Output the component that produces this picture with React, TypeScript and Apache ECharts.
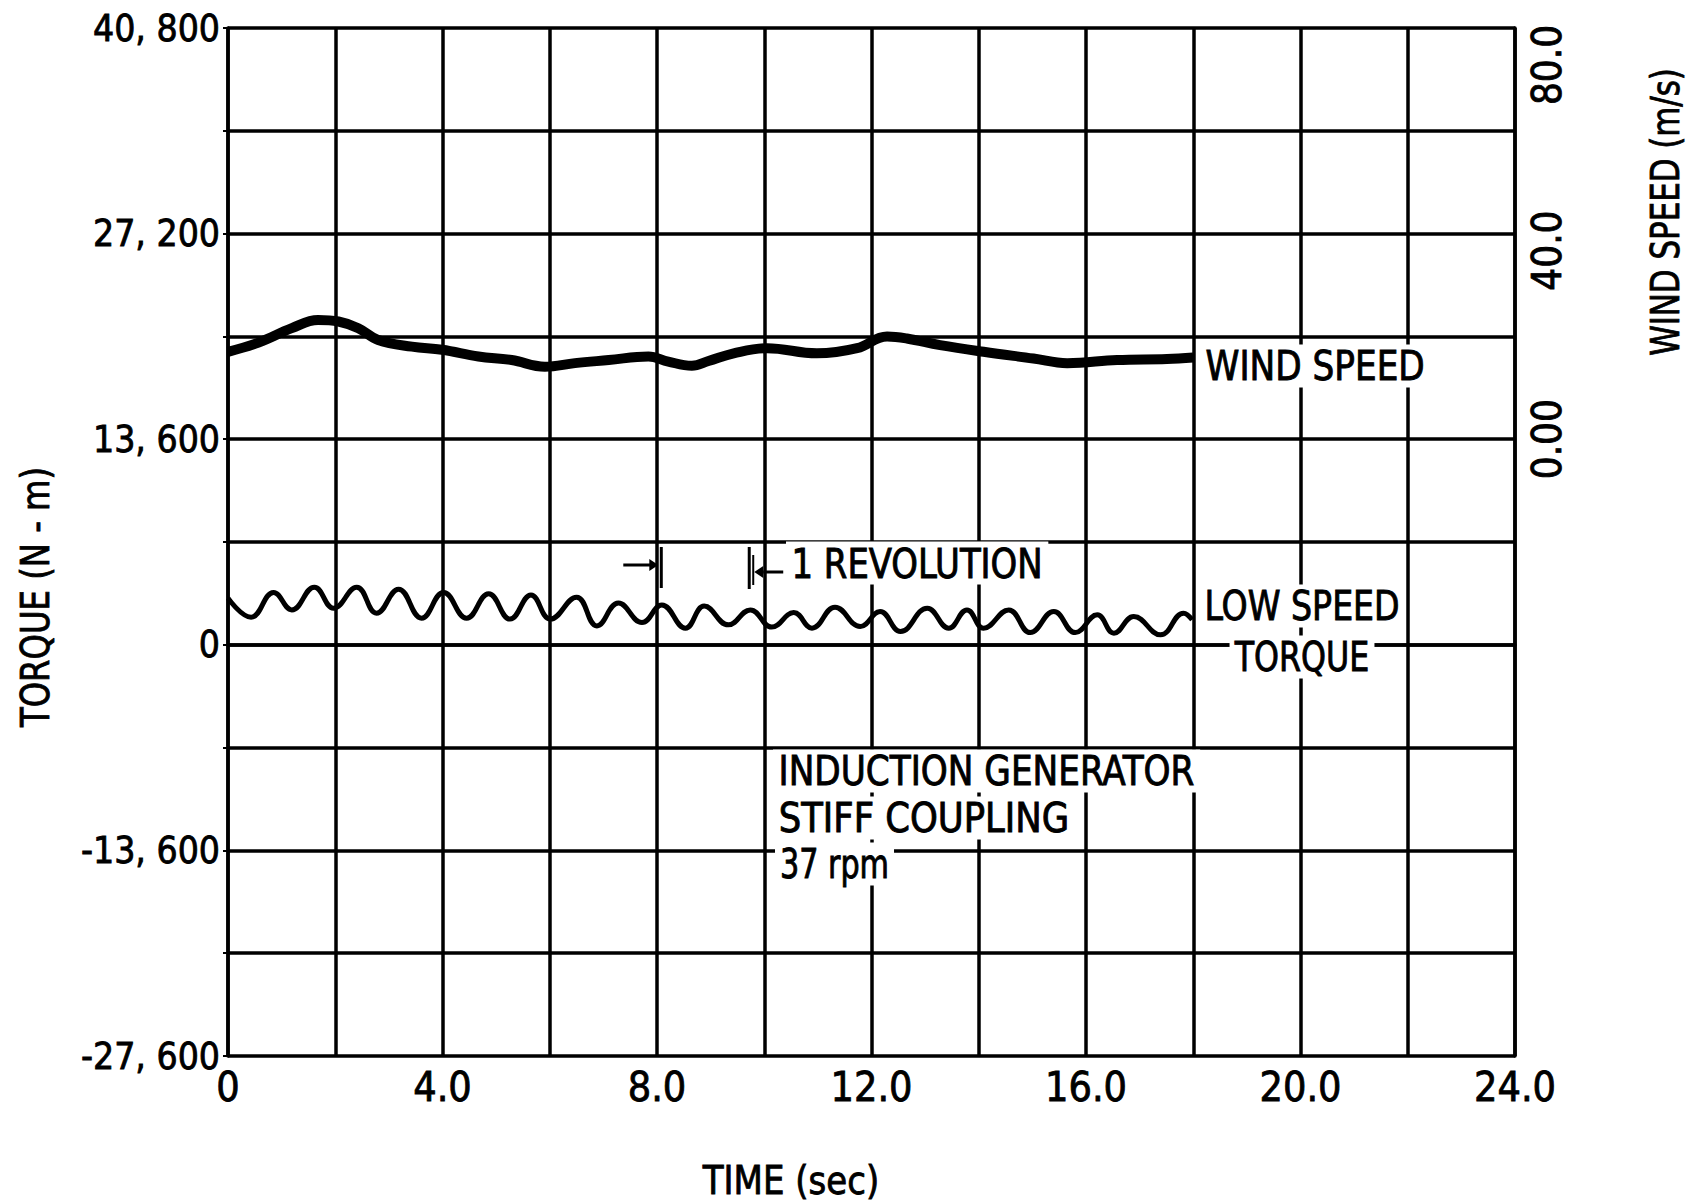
import React, { useEffect, useRef } from "react";
import * as echarts from "echarts";

// ---- axis ticks / labels ----
const xTickLabels: Record<number, string> = { 0: "0", 4: "4.0", 8: "8.0", 12: "12.0", 16: "16.0", 20: "20.0", 24: "24.0" };
const leftTickValues = [40800, 27200, 13600, 0, -13600, -27200];
const leftTickLabels = ["40, 800", "27, 200", "13, 600", "0", "-13, 600", "-27, 600"];
const rightTickValues = [80, 40, 0];
const rightTickLabels = ["80.0", "40.0", "0.00"];

// ---- low speed torque (N-m) ----
const torqueTime = [
  0.0, 0.43, 0.85, 1.19, 1.61, 1.97, 2.4, 2.77, 3.18, 3.61, 4.02, 4.45, 4.86, 5.26, 5.65, 6.01,
  6.5, 6.88, 7.28, 7.72, 8.09, 8.53, 8.88, 9.33, 9.74, 10.14, 10.55, 10.89, 11.32, 11.79, 12.16,
  12.54, 13.04, 13.44, 13.78, 14.09, 14.56, 14.96, 15.4, 15.8, 16.21, 16.52, 16.89, 17.39, 17.82, 17.98,
];
const torqueValue = [
  3090, 1830, 3460, 2310, 3810, 2420, 3810, 2090, 3680, 1760, 3460, 1760, 3370, 1700, 3300, 1700,
  3150, 1250, 2760, 1470, 2640, 1100, 2560, 1320, 2310, 1170, 2130, 1100, 2490, 1210, 2200,
  880, 2420, 1100, 2310, 1100, 2310, 810, 2200, 810, 1980, 770, 1870, 660, 2090, 1650,
];

// ---- wind speed (m/s) ----
const windTime = [
  0.0, 0.57, 1.19, 1.68, 2.06, 2.43, 2.8, 3.43, 3.99, 4.67, 5.29, 5.91, 6.47, 7.1, 7.84, 8.21,
  8.65, 8.96, 9.43, 10.05, 10.98, 11.73, 12.29, 12.66, 13.28, 14.09, 15.02, 15.65, 16.58, 17.51, 18.0,
];
const windValue = [
  17.0, 18.8, 21.6, 23.2, 22.9, 21.6, 19.3, 18.0, 17.4, 16.1, 15.4, 14.1, 14.8, 15.4, 16.1, 15.1,
  14.3, 15.2, 16.7, 17.7, 16.7, 17.7, 20.0, 19.6, 18.3, 17.0, 15.7, 14.8, 15.4, 15.6, 15.9,
];

// one revolution markers (sec)
const revolutionStart = 8.08;
const revolutionEnd = 9.72;

const FONT = "'Liberation Sans Narrow','DejaVu Sans Condensed','Arial Narrow','Liberation Sans',sans-serif";

export default function App() {
  const ref = useRef<HTMLDivElement>(null);

  useEffect(() => {
    const chart = echarts.init(ref.current!, null, { renderer: "svg" });
    const torqueData = torqueTime.map((t, i) => [t, torqueValue[i]]);
    const windData = windTime.map((t, i) => [t, windValue[i]]);

    const textEl = (text: string, x: number, y: number, align: string, sx: number, size = 41) => ({
      type: "text",
      z: 100,
      x,
      y,
      scaleX: sx,
      style: {
        text,
        fill: "#000",
        stroke: "#000",
        lineWidth: 0.9,
        font: `${size}px ${FONT}`,
        textAlign: align,
        textVerticalAlign: "middle",
        backgroundColor: "#fff",
        padding: [1, 6, 1, 6],
      },
    });

    const labelCommon = {
      color: "#000",
      fontFamily: FONT,
      textBorderColor: "#000",
      textBorderWidth: 0.8,
    };

    const option: any = {
      animation: false,
      backgroundColor: "#fff",
      grid: { left: 228, right: 176, top: 28, bottom: 146, containLabel: false },
      xAxis: {
        type: "value",
        min: 0,
        max: 24,
        interval: 2,
        axisLine: { show: true, lineStyle: { color: "#000", width: 3.5 } },
        axisTick: { show: true, length: 6, lineStyle: { color: "#000", width: 2 } },
        axisLabel: {
          ...labelCommon,
          margin: 10,
          fontSize: 41,
          formatter: (v: number) => xTickLabels[Math.round(v)] ?? "",
        },
        splitLine: { show: true, lineStyle: { color: "#000", width: 3.5 } },
      },
      yAxis: [
        {
          type: "value",
          min: -27200,
          max: 40800,
          interval: 6800,
          axisLine: { show: true, onZero: false, lineStyle: { color: "#000", width: 3.5 } },
          axisTick: { show: true, length: 5, lineStyle: { color: "#000", width: 2 } },
          axisLabel: {
            ...labelCommon,
            margin: 8,
            fontSize: 37,
            formatter: (v: number) => {
              const i = leftTickValues.indexOf(Math.round(v));
              return i >= 0 ? leftTickLabels[i] : "";
            },
          },
          splitLine: { show: true, lineStyle: { color: "#000", width: 3.5 } },
        },
        {
          type: "value",
          position: "right",
          min: -120,
          max: 80,
          interval: 20,
          axisLine: { show: true, onZero: false, lineStyle: { color: "#000", width: 3.5 } },
          axisTick: { show: false },
          splitLine: { show: false },
          axisLabel: {
            ...labelCommon,
            rotate: 90,
            margin: 12,
            fontSize: 40,
            formatter: (v: number) => {
              const i = rightTickValues.indexOf(Math.round(v));
              if (i < 0) return "";
              if (i === 0) return `{top|${rightTickLabels[i]}}`;
              if (i === 1) return `{mid|${rightTickLabels[i]}}`;
              return rightTickLabels[i];
            },
            rich: {
              top: { fontFamily: FONT, fontSize: 40, color: "#000", textBorderColor: "#000", textBorderWidth: 0.8, padding: [0, 74, 0, 0] },
              mid: { fontFamily: FONT, fontSize: 40, color: "#000", textBorderColor: "#000", textBorderWidth: 0.8, padding: [0, 34, 0, 0] },
            },
          },
        },
      ],
      series: [
        {
          name: "WIND SPEED",
          type: "line",
          yAxisIndex: 1,
          data: windData,
          smooth: 0.4,
          showSymbol: false,
          lineStyle: { color: "#000", width: 10 },
          z: 5,
        },
        {
          name: "LOW SPEED TORQUE",
          type: "line",
          yAxisIndex: 0,
          data: torqueData,
          smooth: 0.45,
          showSymbol: false,
          lineStyle: { color: "#000", width: 5 },
          z: 5,
        },
      ],
    };
    chart.setOption(option);

    const x1 = chart.convertToPixel({ xAxisIndex: 0 }, revolutionStart) as number;
    const x2 = chart.convertToPixel({ xAxisIndex: 0 }, revolutionEnd) as number;
    const lineEl = (a: number, b: number, c: number, d: number, w = 3) => ({
      type: "line",
      z: 101,
      shape: { x1: a, y1: b, x2: c, y2: d },
      style: { stroke: "#000", lineWidth: w },
    });
    const polyEl = (pts: number[][]) => ({
      type: "polygon",
      z: 101,
      shape: { points: pts },
      style: { fill: "#000" },
    });
    const titleEl = (text: string, x: number, y: number, rot: number, sx: number) => ({
      type: "text",
      z: 100,
      x,
      y,
      rotation: rot,
      scaleX: sx,
      style: {
        text,
        fill: "#000",
        stroke: "#000",
        lineWidth: 0.8,
        font: `39px ${FONT}`,
        textAlign: "center",
        textVerticalAlign: "middle",
      },
    });

    chart.setOption({
      graphic: [
        textEl("WIND SPEED", 1200, 366, "left", 0.93),
        textEl("LOW SPEED", 1302, 606, "center", 0.9),
        textEl("TORQUE", 1302, 657, "center", 0.86),
        textEl("1 REVOLUTION", 786, 563, "left", 0.92),
        textEl("INDUCTION GENERATOR", 773, 771, "left", 0.93),
        textEl("STIFF COUPLING", 773, 818, "left", 0.96),
        textEl("37 rpm", 775, 864, "left", 0.82),
        lineEl(x1, 547, x1, 588),
        lineEl(x1 - 38, 565, x1 - 10, 565),
        polyEl([[x1 - 12, 559], [x1 - 3, 565], [x1 - 12, 571]]),
        lineEl(x2, 547, x2, 589),
        lineEl(x2 + 4, 555, x2 + 4, 585, 2),
        lineEl(x2 + 34, 572, x2 + 14, 572),
        polyEl([[x2 + 14, 566], [x2 + 5, 572], [x2 + 14, 578]]),
        titleEl("WIND SPEED (m/s)", 1666, 212, Math.PI / 2, 0.88),
        titleEl("TORQUE (N - m)", 35, 597, Math.PI / 2, 0.92),
        titleEl("TIME (sec)", 791, 1180, 0, 0.97),
      ],
    });

    return () => chart.dispose();
  }, []);

  return (
    <div
      ref={ref}
      style={{ position: "absolute", left: 0, top: 0, width: 1691, height: 1202, background: "#fff" }}
    />
  );
}
